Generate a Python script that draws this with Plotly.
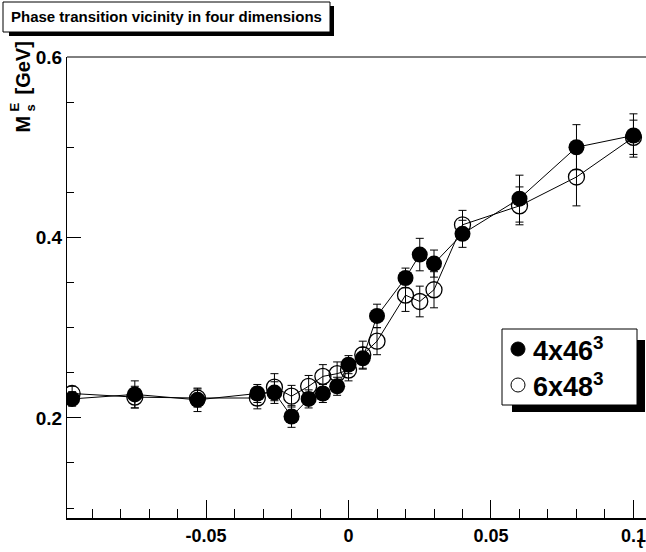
import plotly.graph_objects as go

# t values (shared by both lattices)
t_vals = [-0.097, -0.075, -0.053, -0.032, -0.026, -0.020, -0.014, -0.009, -0.004,
          0.0, 0.005, 0.010, 0.020, 0.025, 0.030, 0.040, 0.060, 0.080, 0.100]

# 4x46^3 (filled)
m_46 = [0.221, 0.226, 0.220, 0.227, 0.228, 0.2015, 0.221, 0.227, 0.235,
        0.259, 0.266, 0.313, 0.355, 0.381, 0.371, 0.404, 0.443, 0.500, 0.513]
err_46 = [0.008, 0.015, 0.013, 0.010, 0.012, 0.012, 0.010, 0.010, 0.010,
          0.010, 0.012, 0.013, 0.011, 0.018, 0.015, 0.015, 0.026, 0.025, 0.024]

# 6x48^3 (open)
m_48 = [0.227, 0.223, 0.222, 0.222, 0.234, 0.224, 0.235, 0.246, 0.249,
        0.253, 0.270, 0.285, 0.336, 0.329, 0.342, 0.414, 0.435, 0.467, 0.511]
err_48 = [0.008, 0.012, 0.010, 0.012, 0.015, 0.012, 0.012, 0.013, 0.013,
          0.012, 0.015, 0.015, 0.018, 0.017, 0.020, 0.016, 0.021, 0.032, 0.019]

x_ticks = [-0.05, 0.0, 0.05, 0.1]
x_labels = ["-0.05", "0", "0.05", "0.1"]
y_ticks = [0.2, 0.4, 0.6]
y_labels = ["0.2", "0.4", "0.6"]

FONT = "Liberation Sans, Arial, sans-serif"
W, H = 646, 552
L, T, B = 67, 57, 34  # plot margins in px
PW, PH = W - L, H - T - B


def px(xp):
    return (xp - L) / PW


def py(yp):
    return (H - B - yp) / PH


def bold(size):
    return dict(family=FONT, size=size, color="black", weight="bold")


fig = go.Figure()

fig.add_trace(go.Scatter(
    x=t_vals, y=m_46, mode="lines+markers", name="4x46<sup>3</sup>",
    line=dict(color="black", width=1),
    marker=dict(symbol="circle", size=16, color="black"),
    error_y=dict(type="data", array=err_46, color="black", thickness=1, width=4),
))
fig.add_trace(go.Scatter(
    x=t_vals, y=m_48, mode="lines+markers", name="6x48<sup>3</sup>",
    line=dict(color="black", width=1),
    marker=dict(symbol="circle-open", size=16, color="black", line=dict(width=1.3)),
    error_y=dict(type="data", array=err_48, color="black", thickness=1, width=4),
))

shapes = []
annotations = []

# top frame line
shapes.append(dict(type="line", xref="paper", yref="paper", x0=0, x1=1, y0=1, y1=1,
                   line=dict(color="black", width=1)))

# title box with shadow
shapes.append(dict(type="rect", xref="paper", yref="paper",
                   x0=px(9), x1=px(334), y0=py(36), y1=py(6),
                   fillcolor="black", line=dict(width=0), layer="above"))
shapes.append(dict(type="rect", xref="paper", yref="paper",
                   x0=px(3), x1=px(330), y0=py(32), y1=py(2),
                   fillcolor="white", line=dict(color="black", width=1), layer="above"))
annotations.append(dict(xref="paper", yref="paper", x=px(166), y=py(17),
                        text="Phase transition vicinity in four dimensions",
                        showarrow=False, xanchor="center", yanchor="middle", font=bold(15)))

# legend box with shadow
shapes.append(dict(type="rect", xref="paper", yref="paper",
                   x0=px(512), x1=px(645), y0=py(412), y1=py(340),
                   fillcolor="black", line=dict(width=0), layer="above"))
shapes.append(dict(type="rect", xref="paper", yref="paper",
                   x0=px(502), x1=px(637), y0=py(405), y1=py(329),
                   fillcolor="white", line=dict(color="black", width=1), layer="above"))
for yc, filled, label in [(349, True, "4x46<sup>3</sup>"), (385, False, "6x48<sup>3</sup>")]:
    shapes.append(dict(type="circle", xref="paper", yref="paper",
                       x0=px(518 - 7), x1=px(518 + 7), y0=py(yc + 7), y1=py(yc - 7),
                       fillcolor="black" if filled else "white",
                       line=dict(color="black", width=1), layer="above"))
    annotations.append(dict(xref="paper", yref="paper", x=px(531), y=py(yc),
                            text=label, showarrow=False, xanchor="left", yanchor="middle",
                            font=bold(27)))

# y axis title: M with stacked s / E, then [GeV], rotated
annotations.append(dict(xref="paper", yref="paper", x=px(22), y=py(40),
                        text="[GeV]", textangle=-90, showarrow=False,
                        xanchor="center", yanchor="top", font=bold(20)))
annotations.append(dict(xref="paper", yref="paper", x=px(22), y=py(114),
                        text="M", textangle=-90, showarrow=False,
                        xanchor="center", yanchor="top", font=bold(20)))
annotations.append(dict(xref="paper", yref="paper", x=px(14), y=py(101),
                        text="E", textangle=-90, showarrow=False,
                        xanchor="center", yanchor="top", font=bold(13)))
annotations.append(dict(xref="paper", yref="paper", x=px(30), y=py(103),
                        text="s", textangle=-90, showarrow=False,
                        xanchor="center", yanchor="top", font=bold(13)))

annotations.append(dict(xref="paper", yref="paper", x=px(645), y=py(553),
                        text="t", showarrow=False, xanchor="right", yanchor="bottom",
                        font=bold(15)))

fig.update_layout(
    width=W, height=H,
    margin=dict(l=L, r=0, t=T, b=B),
    paper_bgcolor="white", plot_bgcolor="white",
    shapes=shapes, annotations=annotations,
    showlegend=False,
)
fig.update_xaxes(
    range=[-0.0988, 0.1044], showgrid=False, zeroline=False,
    showline=True, linecolor="black", linewidth=2,
    tickmode="array", tickvals=x_ticks, ticktext=x_labels,
    ticks="inside", ticklen=18, tickwidth=1, tickcolor="black",
    ticklabeloverflow="allow",
    minor=dict(dtick=0.01, tick0=0, ticks="inside", ticklen=9, tickcolor="black", showgrid=False),
    tickfont=bold(18),
)
fig.update_yaxes(
    range=[0.089, 0.6], showgrid=False, zeroline=False,
    showline=True, linecolor="black", linewidth=1,
    tickmode="array", tickvals=y_ticks, ticktext=y_labels,
    ticks="inside", ticklen=14, tickwidth=1, tickcolor="black",
    minor=dict(dtick=0.05, tick0=0, ticks="inside", ticklen=7, tickcolor="black", showgrid=False),
    tickfont=bold(19),
)

fig.write_html("out.html", config={"displayModeBar": False},
               post_script="document.body.style.margin = '0';")
